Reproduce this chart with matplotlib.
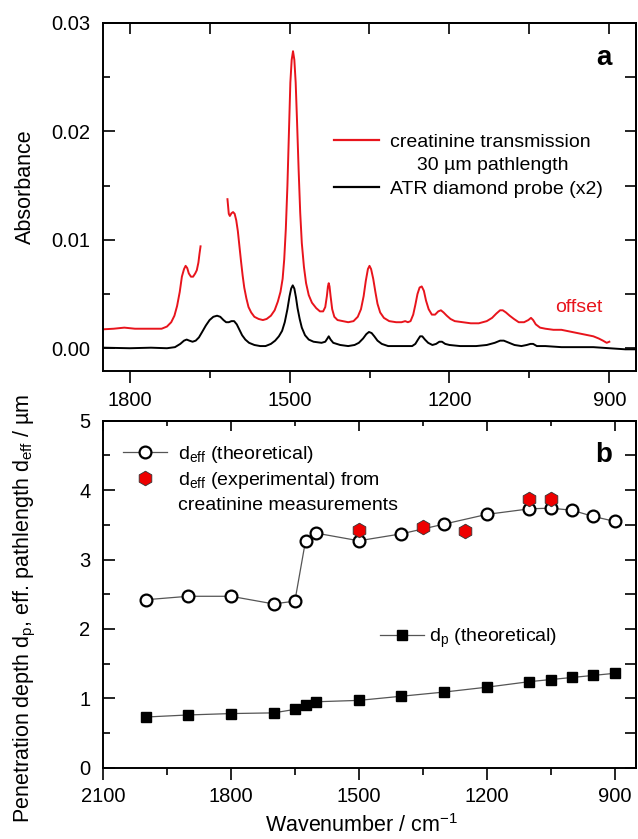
import numpy as np
import matplotlib
matplotlib.use("Agg")
import matplotlib.pyplot as plt
from matplotlib.lines import Line2D
from matplotlib.ticker import MultipleLocator, FormatStrFormatter

plt.rcParams['font.family'] = ['Liberation Sans', 'DejaVu Sans']
plt.rcParams['mathtext.default'] = 'regular'
plt.rcParams['font.size'] = 14

nan = np.nan
# ---------------- panel a: spectra ----------------
red_wn = [1848, 1830, 1810, 1790, 1760, 1740, 1730, 1722, 1716, 1711, 1706, 1702, 1698, 1695,
          1692, 1689, 1685, 1681, 1677, 1674, 1671, 1669, 1667, nan,
          1616.5, 1614, 1612, 1609, 1606, 1603, 1600, 1597, 1594, 1591, 1588, 1585, 1581, 1577,
          1572, 1566, 1558, 1550, 1543, 1535, 1528, 1522, 1517, 1513, 1510, 1507, 1504, 1501,
          1498.5, 1496, 1493.5, 1491, 1488.5, 1486, 1483, 1480, 1477, 1473, 1469, 1464, 1458,
          1450, 1443, 1437, 1433, 1430, 1428, 1426.5, 1425, 1423, 1420, 1416, 1410, 1400, 1390,
          1380, 1372, 1366, 1361, 1357, 1353, 1350, 1347, 1343, 1339, 1335, 1330, 1323, 1313,
          1300, 1290, 1283, 1278, 1273, 1268, 1264, 1260, 1256, 1252, 1248, 1244, 1239, 1233,
          1227, 1221, 1216, 1211, 1205, 1198, 1190, 1175, 1160, 1145, 1130, 1120, 1112, 1105,
          1100, 1094, 1087, 1079, 1070, 1060, 1052, 1047, 1043, 1038, 1030, 1020, 1005, 990,
          980, 970, 960, 950, 940, 930, 920, 912, 905, 900]
red_abs = [0.00175, 0.0018, 0.0019, 0.0018, 0.0018, 0.0018, 0.0020, 0.0024, 0.0030, 0.0039,
           0.0052, 0.0066, 0.0073, 0.0076, 0.0074, 0.0069, 0.0066, 0.0066, 0.0069, 0.0072,
           0.0079, 0.0087, 0.0094, nan,
           0.01375, 0.0124, 0.0122, 0.01245, 0.01256, 0.0124, 0.0118, 0.0108, 0.0094, 0.0080,
           0.0067, 0.0056, 0.0046, 0.0038, 0.0033, 0.0029, 0.0027, 0.0026, 0.0027, 0.0030,
           0.0035, 0.0043, 0.0052, 0.0064, 0.0082, 0.0110, 0.0150, 0.0200, 0.0245, 0.0266,
           0.0274, 0.0266, 0.0245, 0.0210, 0.0165, 0.0125, 0.0097, 0.0075, 0.0060, 0.0049,
           0.0042, 0.0037, 0.0034, 0.0034, 0.0038, 0.0048, 0.0057, 0.0060, 0.0057, 0.0048,
           0.0036, 0.0029, 0.0026, 0.0025, 0.0024, 0.0025, 0.0029, 0.0036, 0.0048, 0.0062,
           0.0073, 0.0076, 0.0073, 0.0064, 0.0052, 0.0041, 0.0033, 0.0028, 0.0025, 0.0024,
           0.0024, 0.0025, 0.0024, 0.0025, 0.0031, 0.0040, 0.0050, 0.0056, 0.0057, 0.0053,
           0.0044, 0.0036, 0.0031, 0.0031, 0.0034, 0.0035, 0.0033, 0.0030, 0.0027, 0.0025,
           0.0024, 0.0023, 0.0023, 0.0025, 0.0028, 0.0032, 0.0035, 0.0035, 0.0033, 0.0030,
           0.0027, 0.0024, 0.0024, 0.0026, 0.0028, 0.0026, 0.0022, 0.0019, 0.0018, 0.0017,
           0.0017, 0.0016, 0.0015, 0.0014, 0.0013, 0.0012, 0.0011, 0.0009, 0.0007, 0.0005,
           0.0006]

blk_wn = [1848, 1800, 1760, 1730, 1715, 1705, 1698, 1693, 1688, 1682, 1676, 1670, 1664, 1657,
          1650, 1643, 1636, 1630, 1624, 1619, 1614, 1609, 1604, 1599, 1594, 1589, 1583, 1576,
          1566, 1555, 1545, 1535, 1527, 1520, 1514, 1509, 1504, 1500, 1497, 1494, 1491, 1488,
          1485, 1481, 1477, 1471, 1464, 1455, 1440, 1433, 1429, 1426.5, 1423, 1418, 1405, 1390,
          1378, 1370, 1362, 1356, 1351, 1346, 1341, 1335, 1327, 1315, 1300, 1280, 1270, 1264,
          1259, 1255, 1251, 1246, 1240, 1232, 1225, 1219, 1214, 1208, 1200, 1180, 1150, 1130,
          1115, 1105, 1098, 1088, 1078, 1065, 1055, 1048, 1043, 1036, 1020, 990, 960, 930, 900,
          870, 851]
blk_abs = [0.00005, 0.0, 0.00005, 0.0, 0.0001, 0.0004, 0.0007, 0.0008, 0.0007, 0.0006, 0.0007,
           0.0010, 0.0015, 0.0021, 0.0026, 0.0029, 0.0030, 0.0029, 0.0026, 0.0024, 0.0024,
           0.0025, 0.0025, 0.0022, 0.0017, 0.0012, 0.0008, 0.0005, 0.0003, 0.0002, 0.0002,
           0.0004, 0.0007, 0.0011, 0.0016, 0.0024, 0.0036, 0.0048, 0.0055, 0.0058, 0.0055,
           0.0047, 0.0037, 0.0027, 0.0019, 0.0012, 0.0008, 0.0006, 0.0005, 0.0006, 0.0009,
           0.0011, 0.0008, 0.0005, 0.0003, 0.0002, 0.0003, 0.0005, 0.0009, 0.0013, 0.0015,
           0.0014, 0.0011, 0.0007, 0.0004, 0.0002, 0.0002, 0.0002, 0.0002, 0.0004, 0.0008,
           0.0011, 0.0011, 0.0008, 0.0005, 0.0003, 0.0004, 0.0006, 0.0006, 0.0004, 0.0003,
           0.0002, 0.0002, 0.0003, 0.0005, 0.0007, 0.0007, 0.0005, 0.0003, 0.0002, 0.0003,
           0.0004, 0.0004, 0.0002, 0.0002, 0.0001, 0.0001, 0.0001, 0.0, -0.0001, -0.0001]

# ---------------- panel b: depths ----------------
wn_theo = [2000, 1900, 1800, 1700, 1650, 1625, 1600, 1500, 1400, 1300, 1200, 1100, 1050, 1000, 950, 900]
deff_theo = [2.42, 2.47, 2.47, 2.36, 2.40, 3.27, 3.38, 3.27, 3.37, 3.51, 3.65, 3.73, 3.74, 3.71, 3.62, 3.55]
dp_theo = [0.73, 0.76, 0.78, 0.79, 0.84, 0.91, 0.95, 0.97, 1.03, 1.09, 1.16, 1.24, 1.27, 1.30, 1.33, 1.36]
wn_exp = [1500, 1350, 1250, 1100, 1050]
deff_exp = [3.42, 3.47, 3.41, 3.87, 3.87]

W, H = 638, 839
fig = plt.figure(figsize=(W / 100, H / 100), dpi=100)


def axes_px(l, t, r, b):
    return fig.add_axes([l / W, 1 - b / H, (r - l) / W, (b - t) / H])


ax1 = axes_px(103, 23, 636, 371)
ax2 = axes_px(103, 420.7, 636, 767.7)

for ax in (ax1, ax2):
    for s in ax.spines.values():
        s.set_linewidth(1.4)

RED = '#e8141c'
TICKFS = 14.5
LABFS = 15.5
# ---- panel a ----
ax1.plot(red_wn, red_abs, color=RED, lw=1.4)
ax1.plot(blk_wn, blk_abs, color='black', lw=1.4)
ax1.set_xlim(1850, 850)
ax1.set_ylim(-0.0021, 0.03)
ax1.xaxis.set_major_locator(MultipleLocator(300))
ax1.xaxis.set_minor_locator(MultipleLocator(150))
ax1.yaxis.set_major_locator(MultipleLocator(0.01))
ax1.yaxis.set_minor_locator(MultipleLocator(0.005))
ax1.yaxis.set_major_formatter(FormatStrFormatter('%.2f'))

# ---- panel b ----
ax2.plot(wn_theo, deff_theo, color='#555555', lw=0.9, marker='o', ms=8.5, mfc='white',
         mec='black', mew=1.6, zorder=3)
ax2.plot(wn_exp, deff_exp, ls='none', marker='h', ms=10.5, mfc='#ee0000', mec='#333333',
         mew=0.6, zorder=4)
ax2.plot(wn_theo, dp_theo, color='#555555', lw=0.9, marker='s', ms=6.5, mfc='black',
         mec='black', zorder=3)
ax2.set_xlim(2100, 850)
ax2.set_ylim(0, 5)
ax2.xaxis.set_major_locator(MultipleLocator(300))
ax2.xaxis.set_minor_locator(MultipleLocator(150))
ax2.yaxis.set_major_locator(MultipleLocator(1))
ax2.yaxis.set_minor_locator(MultipleLocator(0.5))

# ticks
for ax, toplen in ((ax1, (7.7, 7.7)), (ax2, (7.2, 3.6))):
    ax.tick_params(axis='x', which='major', direction='out', length=8.6, width=1.2, pad=5.5,
                   labelsize=TICKFS)
    ax.tick_params(axis='x', which='minor', direction='out', length=5, width=1.2)
    ax.tick_params(axis='y', which='major', direction='in', length=8.6, width=1.2, pad=9,
                   labelsize=TICKFS)
    ax.tick_params(axis='y', which='minor', direction='in', length=5, width=1.2)
    sec = ax.secondary_xaxis('top')
    sec.set_xticks(ax.get_xticks())
    sec.xaxis.set_minor_locator(MultipleLocator(150))
    sec.tick_params(which='major', direction='in', length=toplen[0], width=1.2, labeltop=False)
    sec.tick_params(which='minor', direction='in', length=toplen[1], width=1.2)
    sec.spines['top'].set_linewidth(1.4)
    secy = ax.secondary_yaxis('right')
    secy.set_yticks(ax.get_yticks())
    secy.yaxis.set_minor_locator(ax.yaxis.get_minor_locator())
    secy.tick_params(which='both', direction='in', length=8, width=1.2, labelright=False)
    secy.spines['right'].set_linewidth(1.4)

ax1.set_xlim(1850, 850)
ax1.set_ylim(-0.0021, 0.03)
ax2.set_xlim(2100, 850)
ax2.set_ylim(0, 5)

# legends
h_red = Line2D([], [], color=RED, lw=1.6)
h_blk = Line2D([], [], color='black', lw=1.6)
h_none = Line2D([], [], color='none')
leg1 = ax1.legend([h_red, h_none, h_blk],
                  ['creatinine transmission', '     30 µm pathlength', 'ATR diamond probe (x2)'],
                  loc='upper left', bbox_to_anchor=(0.4334, 0.684), frameon=False,
                  borderpad=0, borderaxespad=0, handlelength=2.3, handletextpad=0.57,
                  labelspacing=0.31, fontsize=14)

h_o = Line2D([], [], color='#555555', lw=0.9, marker='o', ms=8.5, mfc='white', mec='black', mew=1.6)
h_h = Line2D([], [], ls='none', marker='h', ms=10.5, mfc='#ee0000', mec='#333333', mew=0.6)
leg2 = ax2.legend([h_o, h_h, h_none],
                  ['d$_{eff}$ (theoretical)', 'd$_{eff}$ (experimental) from', 'creatinine measurements'],
                  loc='upper left', bbox_to_anchor=(0.0375, 0.934), frameon=False,
                  borderpad=0, borderaxespad=0, handlelength=2.27, handletextpad=0.55,
                  labelspacing=0.28, fontsize=14)
ax2.add_artist(leg2)
h_s = Line2D([], [], color='#555555', lw=0.9, marker='s', ms=6.5, mfc='black', mec='black')
leg3 = ax2.legend([h_s], ['d$_p$ (theoretical)'], loc='upper left', bbox_to_anchor=(0.52, 0.406),
                  frameon=False, borderpad=0, borderaxespad=0, handlelength=2.27,
                  handletextpad=0.23, fontsize=14)

ax1.text(958, 0.0038, 'offset', color=RED, fontsize=14, ha='center', va='center')
ax1.text(0.94, 0.90, 'a', transform=ax1.transAxes, fontsize=20, fontweight='bold',
         ha='center', va='center')
ax2.text(0.94, 0.90, 'b', transform=ax2.transAxes, fontsize=20, fontweight='bold',
         ha='center', va='center')

fig.text(25 / W, 1 - 187 / H, 'Absorbance', rotation=90, ha='center', va='center', fontsize=LABFS)
fig.text(25 / W, 1 - 608 / H, 'Penetration depth d$_p$, eff. pathlength d$_{eff}$ / µm',
         rotation=90, ha='center', va='center', fontsize=LABFS)
fig.text(362 / W, 1 - 826 / H, 'Wavenumber / cm$^{-1}$', ha='center', va='center', fontsize=LABFS)

fig.savefig('out.png', dpi=100)
